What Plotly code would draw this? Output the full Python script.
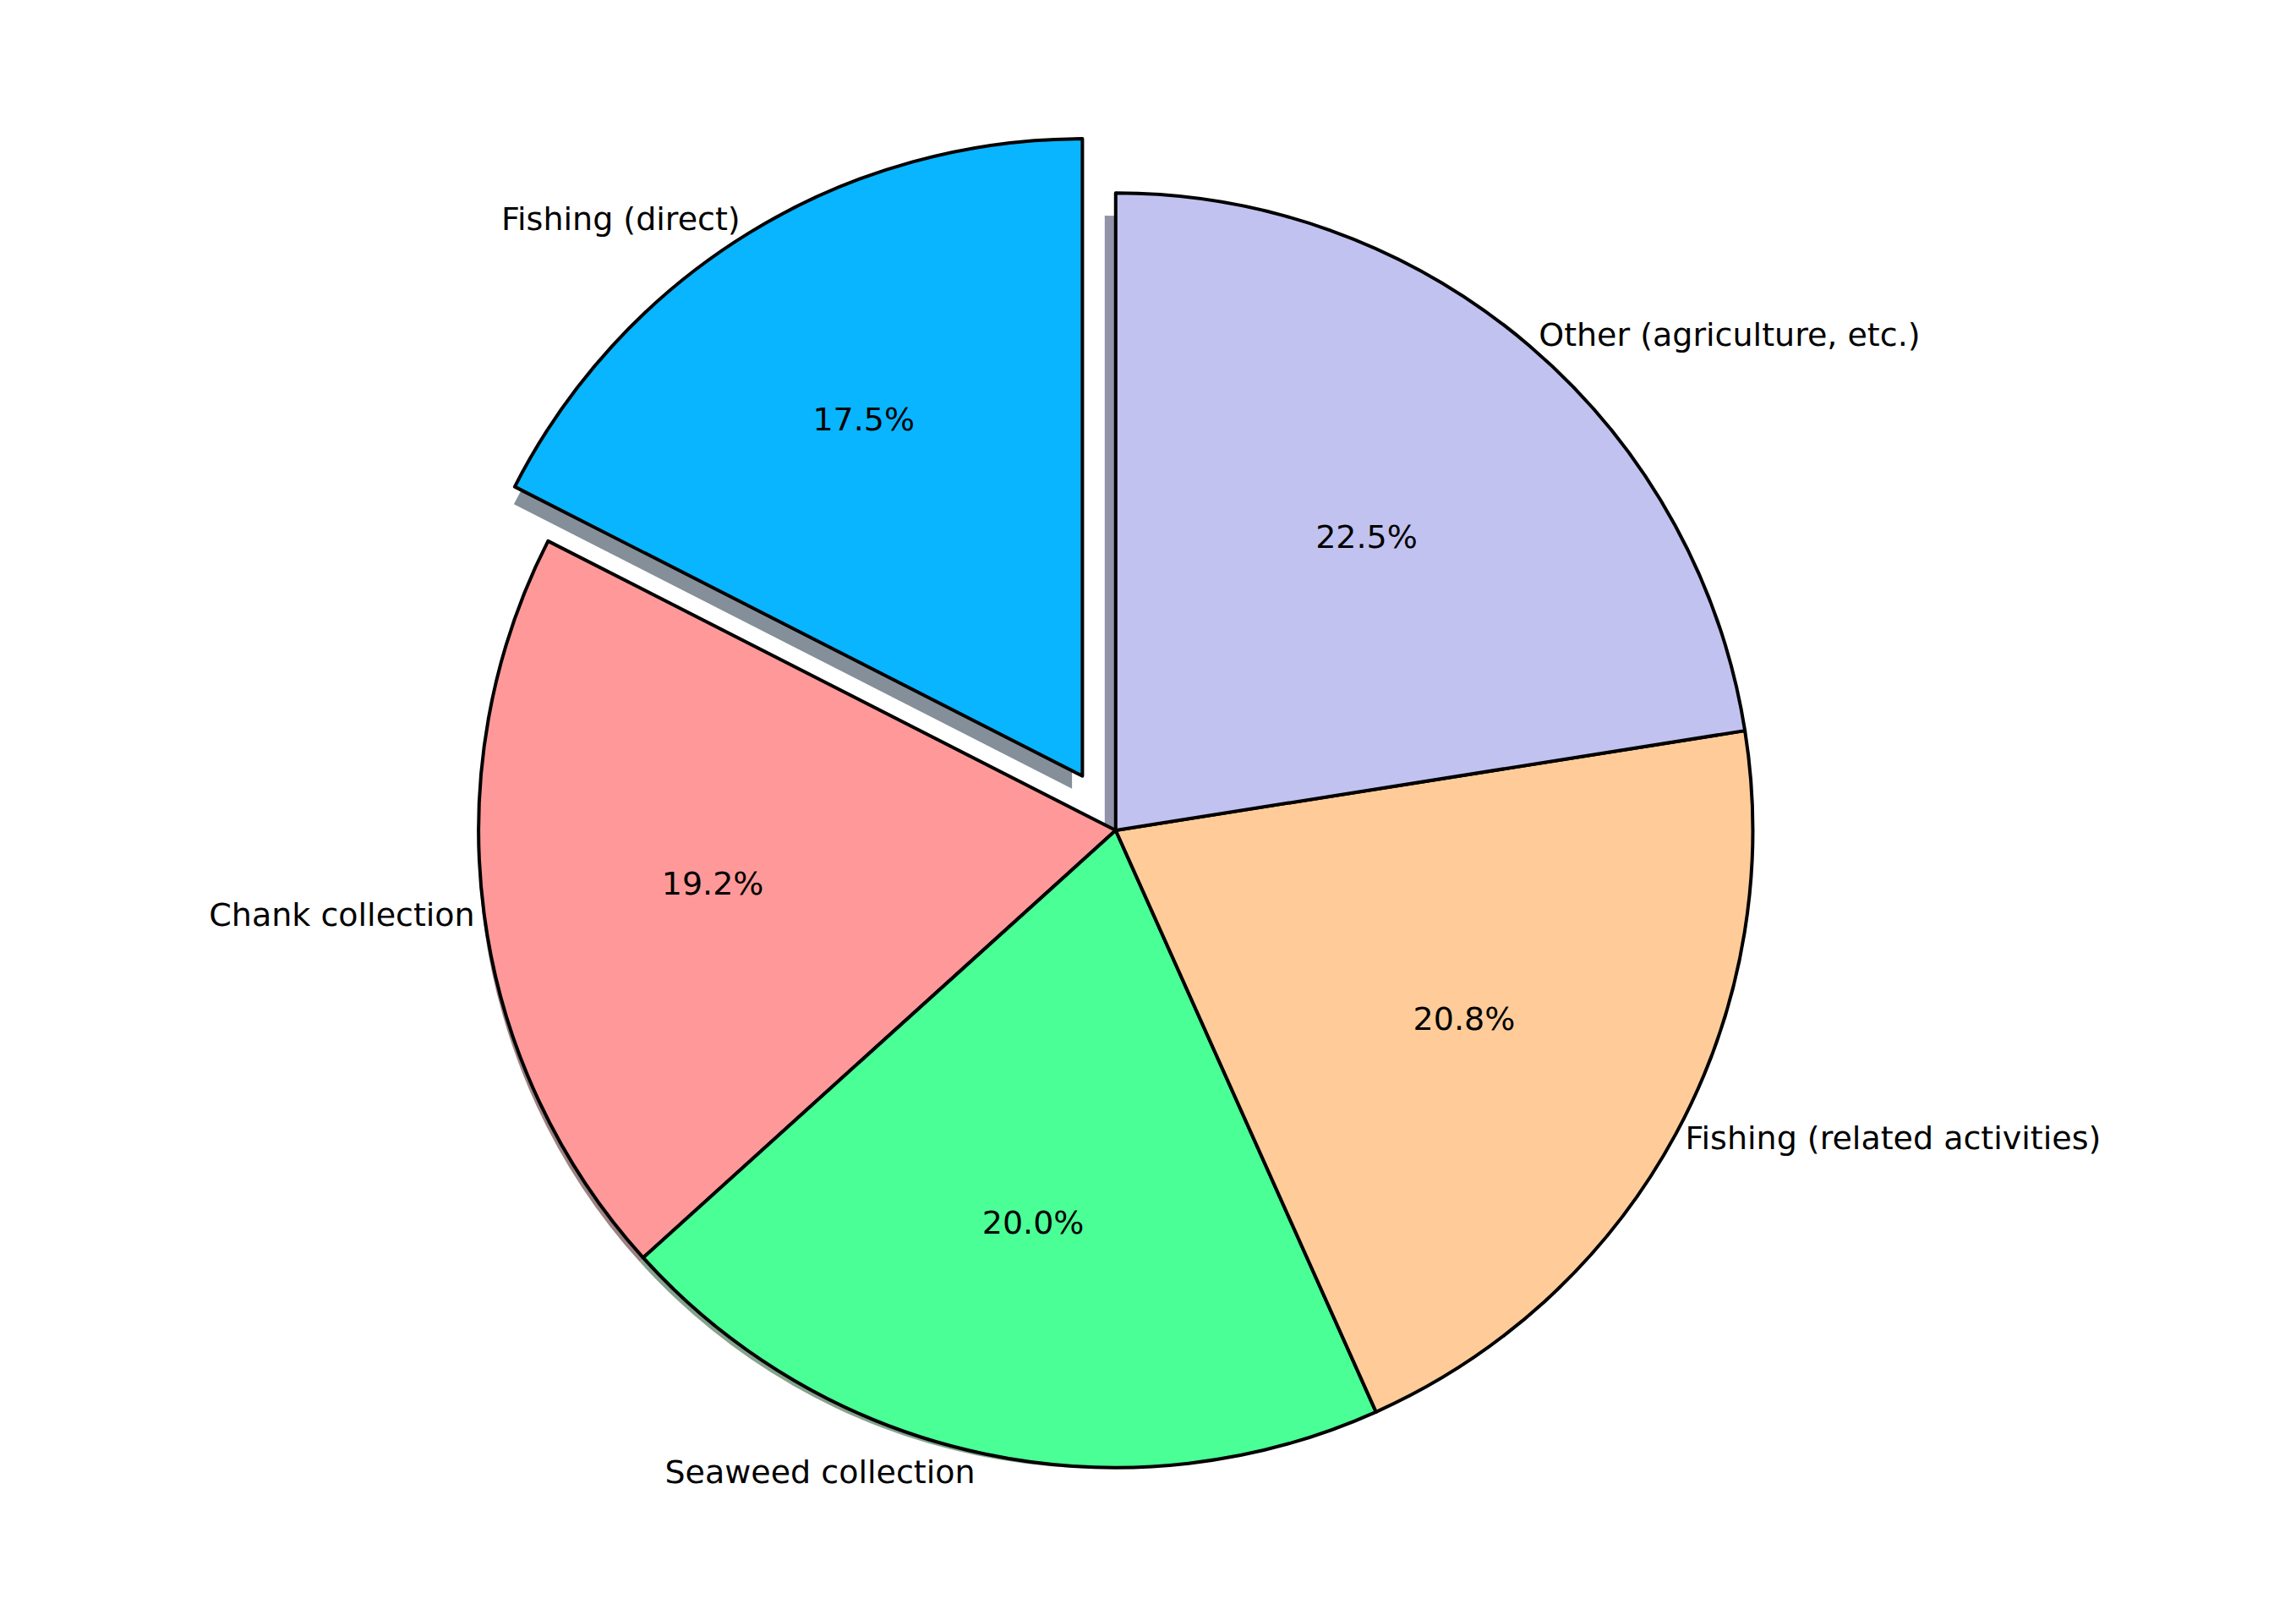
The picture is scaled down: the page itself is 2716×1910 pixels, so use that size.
import plotly.graph_objects as go

labels = ["Fishing (direct)", "Chank collection", "Seaweed collection",
          "Fishing (related activities)", "Other (agriculture, etc.)"]
values = [17.5, 19.2, 20.0, 20.8, 22.5]
colors = ["#09b5ff", "#ff9999", "#4aff96", "#ffcc99", "#c2c2f0"]
shadow_colors = ["#858f99", "#9e8282", "#86a38c", "#a39a8a", "#9292a8"]
pull = [0.1, 0, 0, 0, 0]

W, H = 2716, 1910
dom_x = [0.09, 0.873]
dom_y = [0.0, 1.0]
dx, dy = 16 / W, 16 / H

# first slice starts at 12 o'clock and runs counterclockwise
rot = -values[0] / sum(values) * 360

common = dict(values=values, sort=False, direction="counterclockwise",
              rotation=rot, pull=pull)

fig = go.Figure()
# shadow
fig.add_trace(go.Pie(labels=labels, **common,
                     domain=dict(x=[dom_x[0] - dx, dom_x[1] - dx], y=[dom_y[0], dom_y[1] - 2 * dy]),
                     marker=dict(colors=shadow_colors, line=dict(width=0)),
                     textinfo="none", hoverinfo="skip", showlegend=False))
# main pie with percentages inside
fig.add_trace(go.Pie(labels=labels, **common,
                     domain=dict(x=dom_x, y=dom_y),
                     marker=dict(colors=colors, line=dict(color="black", width=4)),
                     textinfo="percent", texttemplate="%{percent:.1%}",
                     textposition="inside", insidetextorientation="horizontal",
                     textfont=dict(size=38, color="black", family="DejaVu Sans"),
                     showlegend=False))
# outer labels
fig.add_trace(go.Pie(labels=labels, **common,
                     domain=dict(x=dom_x, y=dom_y),
                     marker=dict(colors=["rgba(0,0,0,0)"] * 5, line=dict(width=0)),
                     textinfo="label", textposition="outside",
                     textfont=dict(size=38, color="black", family="DejaVu Sans"),
                     hoverinfo="skip", showlegend=False))

fig.update_layout(width=W, height=H, paper_bgcolor="white", plot_bgcolor="white",
                  margin=dict(l=0, r=0, t=0, b=0), showlegend=False)
fig.write_html("out.html")
